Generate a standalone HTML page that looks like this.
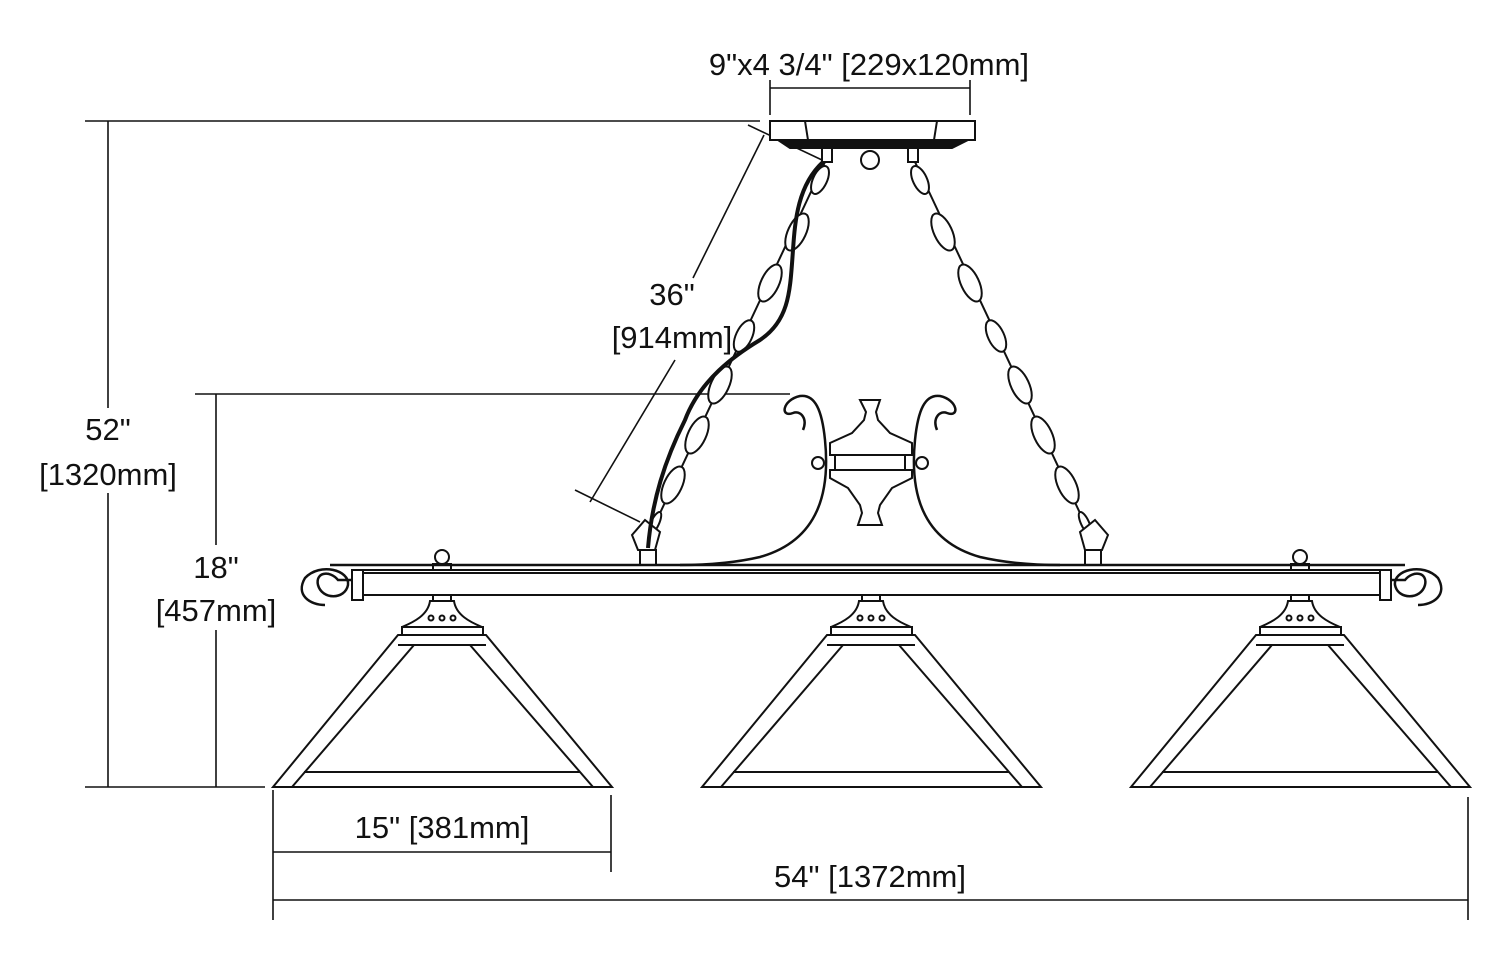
<!DOCTYPE html>
<html><head><style>body{margin:0;background:#fff}svg{display:block}text{font-family:"Liberation Sans",sans-serif;font-size:31px;fill:#111;stroke:none}</style></head><body>
<svg width="1500" height="973" viewBox="0 0 1500 973" xmlns="http://www.w3.org/2000/svg" fill="none" stroke="#111" stroke-width="2">
<!-- dimension lines -->
<g stroke-width="1.6">
<line x1="770" y1="80" x2="770" y2="115"/><line x1="970" y1="80" x2="970" y2="115"/><line x1="770" y1="88" x2="970" y2="88"/>
<line x1="85" y1="121" x2="760" y2="121"/><line x1="85" y1="787" x2="265" y2="787"/><line x1="108" y1="121" x2="108" y2="787"/>
<line x1="195" y1="394" x2="790" y2="394"/><line x1="216" y1="394" x2="216" y2="787"/>
<line x1="273" y1="790" x2="273" y2="920"/><line x1="611" y1="795" x2="611" y2="872"/><line x1="273" y1="852" x2="611" y2="852"/>
<line x1="1468" y1="797" x2="1468" y2="920"/><line x1="273" y1="900" x2="1468" y2="900"/>
<line x1="764" y1="135" x2="693" y2="278"/><line x1="675" y1="360" x2="590" y2="502"/><line x1="748" y1="125" x2="822" y2="160"/><line x1="575" y1="490" x2="640" y2="522"/>
</g>
<rect x="30" y="408" width="160" height="85" fill="#fff" stroke="none"/>
<rect x="150" y="545" width="135" height="85" fill="#fff" stroke="none"/>
<text x="869" y="75" text-anchor="middle">9"x4 3/4" [229x120mm]</text>
<text x="108" y="440" text-anchor="middle">52"</text><text x="108" y="485" text-anchor="middle">[1320mm]</text>
<text x="216" y="578" text-anchor="middle">18"</text><text x="216" y="621" text-anchor="middle">[457mm]</text>
<text x="672" y="305" text-anchor="middle">36"</text><text x="672" y="348" text-anchor="middle">[914mm]</text>
<text x="442" y="838" text-anchor="middle">15" [381mm]</text>
<text x="870" y="887" text-anchor="middle">54" [1372mm]</text>
<!-- canopy -->
<rect x="770" y="121" width="205" height="19" fill="#fff"/>
<line x1="805" y1="121" x2="808" y2="140"/><line x1="937" y1="121" x2="934" y2="140"/>
<path d="M778 140 L968 140 L952 148 L790 148 Z" fill="#111"/>
<circle cx="870" cy="160" r="9"/><rect x="822" y="148" width="10" height="14"/><rect x="908" y="148" width="10" height="14"/>
<!-- chains -->
<g stroke-width="2">
<g id="chl">
<line x1="825" y1="162" x2="645" y2="545"/>
<ellipse cx="820" cy="180" rx="7" ry="15" transform="rotate(25 820 180)" fill="#fff"/>
<ellipse cx="797" cy="232" rx="9" ry="20" transform="rotate(25 797 232)" fill="#fff"/>
<ellipse cx="770" cy="283" rx="9" ry="20" transform="rotate(25 770 283)" fill="#fff"/>
<ellipse cx="744" cy="336" rx="8" ry="17" transform="rotate(25 744 336)" fill="#fff"/>
<ellipse cx="720" cy="385" rx="9" ry="20" transform="rotate(25 720 385)" fill="#fff"/>
<ellipse cx="697" cy="435" rx="9" ry="20" transform="rotate(25 697 435)" fill="#fff"/>
<ellipse cx="673" cy="485" rx="9" ry="20" transform="rotate(25 673 485)" fill="#fff"/>
<ellipse cx="655" cy="523" rx="4" ry="12" transform="rotate(25 655 523)" fill="#fff"/>
</g>
<use href="#chl" transform="translate(1740 0) scale(-1 1)"/>
<path d="M632 535 L645 520 L660 532 L655 550 L638 550 Z" fill="#fff"/><rect x="640" y="550" width="16" height="15" fill="#fff"/>
<path d="M1108 535 L1095 520 L1080 532 L1085 550 L1102 550 Z" fill="#fff"/><rect x="1085" y="550" width="16" height="15" fill="#fff"/>
</g>
<!-- cord -->
<path d="M823 162 C798 185 795 220 793 250 C790 290 790 320 760 340 C735 355 700 380 685 420 C665 460 652 500 648 548" stroke-width="4"/>
<!-- center ornament -->
<path d="M860 400 L880 400 L876 412 L878 420 L890 433 L912 443 L912 455 L830 455 L830 443 L852 433 L864 420 L866 412 Z" fill="#fff"/>
<rect x="835" y="455" width="70" height="15" fill="#fff"/>
<path d="M830 470 L912 470 L912 478 L892 488 L880 505 L878 513 L882 525 L858 525 L862 513 L860 505 L848 488 L830 478 Z" fill="#fff"/>
<circle cx="818" cy="463" r="6"/><circle cx="922" cy="463" r="6"/>
<path d="M803 430 C808 418 800 410 793 413 C780 418 782 400 800 396 C815 394 822 410 825 440 C830 490 820 540 760 557 C730 564 700 565 680 565" stroke-width="2.5"/>
<path d="M937 430 C932 418 940 410 947 413 C960 418 958 400 940 396 C925 394 918 410 915 440 C910 490 920 540 980 557 C1010 564 1040 565 1060 565" stroke-width="2.5"/>
<!-- bar -->
<line x1="330" y1="565" x2="1405" y2="565" stroke-width="2.5"/>
<line x1="355" y1="570" x2="1390" y2="570"/>
<rect x="355" y="573" width="1035" height="22" fill="#fff"/>
<rect x="352" y="570" width="11" height="30" fill="#fff"/><rect x="1380" y="570" width="11" height="30" fill="#fff"/>
<path d="M352 580 L338 580 C330 570 315 572 318 585 C322 600 345 600 348 585 C350 570 320 562 305 578 C295 595 310 605 325 605" stroke-width="2.5"/>
<path d="M1391 580 L1405 580 C1413 570 1428 572 1425 585 C1421 600 1398 600 1395 585 C1393 570 1423 562 1438 578 C1448 595 1433 605 1418 605" stroke-width="2.5"/>
<g id="fin"><circle cx="442" cy="557" r="7"/><rect x="433" y="564" width="18" height="6"/></g>
<use href="#fin" transform="translate(858 0)"/>
<!-- shades -->
<g id="sh">
<rect x="433" y="595" width="18" height="6"/>
<path d="M430 601 L454 601 C456 615 470 622 482 627 L402 627 C414 622 428 615 430 601 Z" fill="#fff"/>
<circle cx="431" cy="618" r="2.5"/><circle cx="442" cy="618" r="2.5"/><circle cx="453" cy="618" r="2.5"/>
<rect x="402" y="627" width="81" height="8" fill="#fff"/>
<path d="M398 635 L486 635 L612 787 L273 787 Z" fill="#fff"/>
<line x1="398" y1="645" x2="486" y2="645"/>
<path d="M414 645 L292 787"/><path d="M470 645 L593 787"/>
<line x1="304" y1="772" x2="580" y2="772"/>
</g>
<use href="#sh" transform="translate(429 0)"/>
<use href="#sh" transform="translate(858 0)"/>
</svg>
</body></html>
